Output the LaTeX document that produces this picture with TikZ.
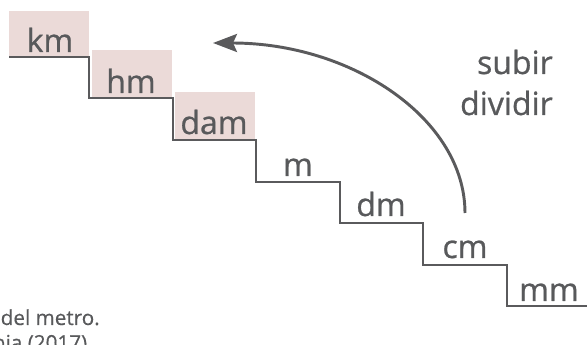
\documentclass[tikz,border=0pt]{standalone}
\usepackage{fontspec}
\setmainfont{Open Sans}
\newfontfamily\labelfont{Open Sans}[FakeBold=0.8]
\newfontfamily\notefont{Open Sans}[FakeBold=0.5]
\usetikzlibrary{arrows.meta}
\definecolor{txtgray}{HTML}{58595B}
\definecolor{linegray}{HTML}{5A5A5C}
\definecolor{boxpink}{HTML}{EBDAD8}
\tikzset{
  unitlabel/.style={anchor=base, text=txtgray, font=\labelfont\fontsize{24}{28}\selectfont, inner sep=0pt},
  sidelabel/.style={anchor=base east, text=txtgray, font=\labelfont\fontsize{24}{28}\selectfont, inner sep=0pt},
  notelabel/.style={anchor=base east, text=txtgray, font=\notefont\fontsize{15.5}{18}\selectfont, inner sep=0pt},
  stairline/.style={draw=linegray, line width=2.2pt, line join=miter},
  pinkbox/.style={fill=boxpink, draw=none},
  bigarrow/.style={draw=linegray, line width=2.2pt, -{Stealth[length=18pt, width=13.5pt, inset=3pt]}}
}
\begin{document}
\begin{tikzpicture}[x=0.75pt, y=-0.75pt]
\useasboundingbox (0,0) rectangle (587,345);
\clip (0,0) rectangle (587,345);
% pink boxes
\fill[pinkbox] (9,11) rectangle (89,57);
\fill[pinkbox] (92,50) rectangle (172,97);
\fill[pinkbox] (175,92) rectangle (255,139);
% stairs
\coordinate (s0) at (9,57);
\coordinate (s1) at (89,57);
\coordinate (s2) at (89,98);
\coordinate (s3) at (173,98);
\coordinate (s4) at (173,140);
\coordinate (s5) at (256,140);
\coordinate (s6) at (256,182);
\coordinate (s7) at (340,182);
\coordinate (s8) at (340,223);
\coordinate (s9) at (423,223);
\coordinate (s10) at (423,265);
\coordinate (s11) at (507,265);
\coordinate (s12) at (507,306);
\coordinate (s13) at (590,306);
\draw[stairline] (s0) -- (s1) -- (s2) -- (s3) -- (s4) -- (s5) -- (s6) -- (s7) -- (s8) -- (s9) -- (s10) -- (s11) -- (s12) -- (s13);
% unit labels
\node[unitlabel] (km) at (50,52) {km};
\node[unitlabel] (hm) at (131,93) {hm};
\node[unitlabel] (dam) at (214,134) {dam};
\node[unitlabel] (m) at (298,176) {m};
\node[unitlabel] (dm) at (381,216) {dm};
\node[unitlabel] (cm) at (465,258) {cm};
\node[unitlabel] (mm) at (549,301) {mm};
% side labels
\node[sidelabel] (subir) at (553,74) {subir};
\node[sidelabel] (dividir) at (553,115) {dividir};
% arrow
\coordinate (astart) at (465,213);
\coordinate (aend) at (213,43);
\coordinate (c1) at (465,119);
\coordinate (c2) at (352,43);
\draw[bigarrow] (astart) .. controls (c1) and (c2) .. (aend);
% note
\node[notelabel] (note1) at (100,325) {del metro.};
\node[notelabel] (note2) at (93,350) {nia (2017).};
\end{tikzpicture}
\end{document}
